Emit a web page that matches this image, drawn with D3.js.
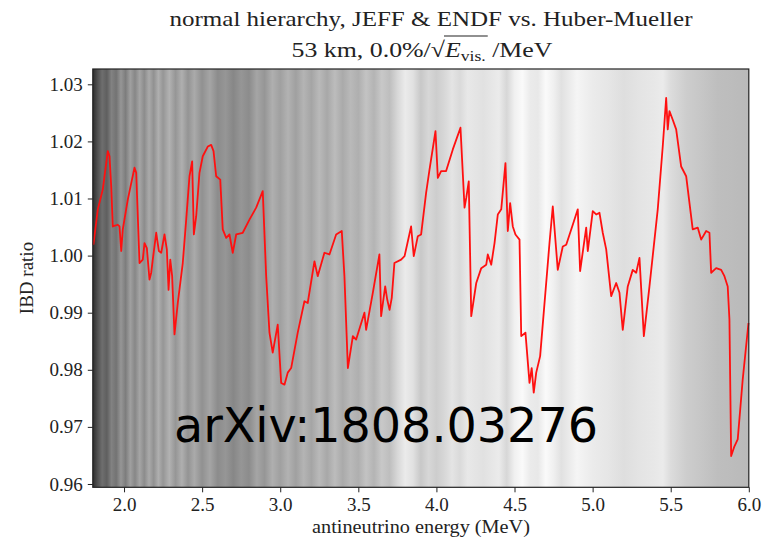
<!DOCTYPE html>
<html>
<head>
<meta charset="utf-8">
<script src="https://cdn.jsdelivr.net/npm/d3@7"></script>
<style>
  body { margin: 0; background: #fff; }
  svg { display: block; }
  .axis text { font-family: "Liberation Serif", "DejaVu Serif", serif; font-size: 19px; fill: #222; }
  .axis path, .axis line { stroke: #222; }
</style>
</head>
<body>
<div id="chart"></div>
<script>
// IBD ratio vs antineutrino energy
const energy = [1.804, 1.832, 1.864, 1.896, 1.907, 1.918, 1.928, 1.960, 1.971, 1.982, 1.992, 2.024, 2.067, 2.078, 2.088, 2.099,
  2.120, 2.131, 2.146, 2.163, 2.174, 2.184, 2.206, 2.223, 2.238, 2.259, 2.274, 2.285, 2.296, 2.308, 2.323, 2.344,
  2.376, 2.398, 2.419, 2.436, 2.447, 2.462, 2.483, 2.504, 2.536, 2.558, 2.573, 2.590, 2.616, 2.632, 2.654, 2.675,
  2.696, 2.718, 2.760, 2.803, 2.846, 2.888, 2.910, 2.931, 2.952, 2.984, 3.006, 3.027, 3.048, 3.070, 3.112, 3.155,
  3.176, 3.219, 3.240, 3.283, 3.315, 3.358, 3.394, 3.411, 3.433, 3.465, 3.486, 3.539, 3.550, 3.593, 3.635, 3.646,
  3.672, 3.685, 3.700, 3.714, 3.731, 3.774, 3.796, 3.838, 3.855, 3.881, 3.902, 3.934, 3.956, 3.994, 4.009, 4.030,
  4.062, 4.105, 4.154, 4.180, 4.191, 4.207, 4.223, 4.255, 4.287, 4.319, 4.329, 4.351, 4.372, 4.393, 4.415, 4.442,
  4.457, 4.472, 4.489, 4.506, 4.532, 4.543, 4.570, 4.596, 4.610, 4.623, 4.639, 4.664, 4.724, 4.745, 4.777, 4.809,
  4.831, 4.873, 4.905, 4.920, 4.959, 4.969, 5.001, 5.023, 5.044, 5.065, 5.087, 5.119, 5.151, 5.172, 5.193, 5.225,
  5.257, 5.279, 5.300, 5.328, 5.364, 5.417, 5.449, 5.471, 5.481, 5.492, 5.513, 5.535, 5.567, 5.599, 5.641, 5.673,
  5.695, 5.727, 5.748, 5.759, 5.791, 5.823, 5.844, 5.865, 5.876, 5.887, 5.908, 5.929, 5.961, 5.998];
const ratio = [1.0019, 1.0081, 1.0116, 1.0183, 1.0174, 1.0121, 1.0051, 1.0054, 1.0051, 1.0008, 1.0046, 1.0098, 1.0154, 1.0145, 1.0069, 0.9987,
  0.9993, 1.0022, 1.0013, 0.9958, 0.9970, 0.9993, 1.0040, 1.0008, 1.0005, 1.0037, 1.0011, 0.9940, 0.9993, 0.9964, 0.9862, 0.9917,
  0.9987, 1.0063, 1.0139, 1.0165, 1.0037, 1.0069, 1.0145, 1.0174, 1.0191, 1.0194, 1.0183, 1.0139, 1.0133, 1.0046, 1.0031, 1.0037,
  1.0005, 1.0037, 1.0040, 1.0063, 1.0084, 1.0113, 0.9964, 0.9865, 0.9830, 0.9879, 0.9777, 0.9774, 0.9795, 0.9803, 0.9865, 0.9920,
  0.9917, 0.9990, 0.9964, 1.0005, 1.0002, 1.0037, 1.0043, 0.9964, 0.9803, 0.9859, 0.9853, 0.9900, 0.9870, 0.9935, 1.0002, 0.9894,
  0.9946, 0.9923, 0.9905, 0.9926, 0.9987, 0.9993, 0.9999, 1.0051, 0.9999, 1.0034, 1.0037, 1.0110, 1.0151, 1.0218, 1.0136, 1.0148,
  1.0148, 1.0186, 1.0224, 1.0084, 1.0101, 1.0130, 0.9894, 0.9952, 0.9978, 0.9984, 1.0002, 0.9984, 1.0022, 1.0072, 1.0081, 1.0162,
  1.0043, 1.0092, 1.0051, 1.0037, 1.0028, 0.9859, 0.9865, 0.9777, 0.9803, 0.9760, 0.9795, 0.9824, 1.0022, 1.0086, 0.9975, 1.0016,
  1.0019, 1.0054, 1.0081, 0.9973, 1.0049, 1.0008, 1.0078, 1.0072, 1.0075, 1.0040, 1.0011, 0.9929, 0.9952, 0.9935, 0.9870, 0.9946,
  0.9975, 0.9970, 0.9996, 0.9859, 0.9946, 1.0081, 1.0191, 1.0276, 1.0221, 1.0253, 1.0238, 1.0221, 1.0156, 1.0139, 1.0046, 1.0049,
  1.0028, 1.0043, 1.0040, 0.9970, 0.9978, 0.9975, 0.9964, 0.9946, 0.9888, 0.9649, 0.9666, 0.9678, 0.9783, 0.9882];

const xTicks = [2.0, 2.5, 3.0, 3.5, 4.0, 4.5, 5.0, 5.5, 6.0];
const yTicks = [0.96, 0.97, 0.98, 0.99, 1.00, 1.01, 1.02, 1.03];

// grey shading behind the curve (energy, grey level)
const bgEnergy = [1.80, 1.83, 1.86, 1.89, 1.92, 1.95, 1.98, 2.01, 2.04, 2.07, 2.10, 2.13, 2.16, 2.19, 2.22, 2.25,
  2.29, 2.33, 2.37, 2.41, 2.45, 2.50, 2.55, 2.60, 2.65, 2.70, 2.75, 2.80, 2.85, 2.90, 2.95, 3.00,
  3.05, 3.10, 3.15, 3.20, 3.25, 3.30, 3.35, 3.40, 3.45, 3.50, 3.55, 3.60, 3.65, 3.70, 3.75, 3.80,
  3.85, 3.90, 3.95, 4.00, 4.05, 4.10, 4.15, 4.20, 4.30, 4.40, 4.45, 4.50, 4.55, 4.60, 4.65, 4.70,
  4.75, 4.80, 4.85, 4.90, 5.00, 5.10, 5.20, 5.30, 5.40, 5.45, 5.50, 5.60, 5.70, 5.80, 5.90, 6.00];
const bgGray = [46, 80, 110, 95, 130, 115, 150, 125, 160, 135, 165, 140, 170, 145, 175, 150,
  178, 150, 175, 148, 170, 145, 165, 140, 150, 135, 150, 140, 165, 150, 175, 160,
  178, 160, 180, 165, 185, 168, 188, 170, 185, 175, 195, 180, 200, 190, 215, 235,
  225, 200, 215, 205, 215, 228, 218, 232, 225, 235, 215, 240, 250, 235, 232, 250,
  240, 225, 235, 245, 235, 230, 222, 228, 232, 235, 220, 205, 198, 190, 188, 185];

const width = 765, height = 542;
const plotLeft = 92.8, plotRight = 748.8, plotTop = 69, plotBottom = 487.3;

const svg = d3.select('#chart').append('svg')
    .attr('width', width)
    .attr('height', height);

const x = d3.scaleLinear().domain([1.8, 6.0]).range([plotLeft, plotRight]);
const y = d3.scaleLinear().domain([0.95942, 1.03268]).range([plotBottom, plotTop]);

// background shading
const grad = svg.append('defs').append('linearGradient')
    .attr('id', 'shade')
    .attr('gradientUnits', 'userSpaceOnUse')
    .attr('x1', x(1.8)).attr('x2', x(6.0))
    .attr('y1', 0).attr('y2', 0);
grad.selectAll('stop')
    .data(bgEnergy)
    .join('stop')
    .attr('offset', d => (d - 1.8) / 4.2)
    .attr('stop-color', (d, i) => d3.rgb(bgGray[i], bgGray[i], bgGray[i]));

svg.append('rect')
    .attr('x', plotLeft).attr('y', plotTop)
    .attr('width', plotRight - plotLeft).attr('height', plotBottom - plotTop)
    .attr('fill', 'url(#shade)');

// curve
const pts = energy.map((e, i) => [e, ratio[i]]);
svg.append('path')
    .datum(pts)
    .attr('fill', 'none')
    .attr('stroke', '#ff1010')
    .attr('stroke-width', 1.8)
    .attr('stroke-linejoin', 'round')
    .attr('d', d3.line().x(d => x(d[0])).y(d => y(d[1])));

// frame
svg.append('rect')
    .attr('x', plotLeft).attr('y', plotTop)
    .attr('width', plotRight - plotLeft).attr('height', plotBottom - plotTop)
    .attr('fill', 'none')
    .attr('stroke', '#222')
    .attr('stroke-width', 1.2);

svg.append('g')
    .attr('class', 'axis')
    .attr('transform', 'translate(0,' + plotBottom + ')')
    .call(d3.axisBottom(x).tickValues(xTicks).tickFormat(d3.format('.1f')).tickSize(5).tickPadding(5))
    .call(g => g.select('.domain').remove());

svg.append('g')
    .attr('class', 'axis')
    .attr('transform', 'translate(' + plotLeft + ',0)')
    .call(d3.axisLeft(y).tickValues(yTicks).tickFormat(d3.format('.2f')).tickSize(5).tickPadding(5))
    .call(g => g.select('.domain').remove());

const serif = '"Liberation Serif", "DejaVu Serif", serif';

// axis labels
svg.append('text')
    .attr('x', 421).attr('y', 533)
    .attr('text-anchor', 'middle')
    .attr('textLength', 218).attr('lengthAdjust', 'spacingAndGlyphs')
    .style('font-family', serif).style('font-size', '18px').style('fill', '#222')
    .text('antineutrino energy (MeV)');

svg.append('text')
    .attr('transform', 'translate(33,278) rotate(-90)')
    .attr('text-anchor', 'middle')
    .style('font-family', serif).style('font-size', '19px').style('fill', '#222')
    .text('IBD ratio');

// titles
svg.append('text')
    .attr('x', 431).attr('y', 26)
    .attr('text-anchor', 'middle')
    .attr('textLength', 523).attr('lengthAdjust', 'spacingAndGlyphs')
    .style('font-family', serif).style('font-size', '22px').style('fill', '#222')
    .text('normal hierarchy, JEFF & ENDF vs. Huber-Mueller');

const t2 = svg.append('text')
    .attr('x', 422).attr('y', 57)
    .attr('text-anchor', 'middle')
    .attr('textLength', 261).attr('lengthAdjust', 'spacingAndGlyphs')
    .style('font-family', serif).style('font-size', '22px').style('fill', '#222');
t2.append('tspan').text('53 km, 0.0%/');
t2.append('tspan').text('\u221A');
t2.append('tspan').style('font-style', 'italic').text('E');
t2.append('tspan').attr('dy', 4).style('font-size', '15px').text('vis.');
t2.append('tspan').attr('dy', -4).text(' /MeV');

// overline of the square root
const tn = t2.node();
const rootEnd = tn.getEndPositionOfChar(12);
const visEnd = tn.getEndPositionOfChar(17);
svg.append('line')
    .attr('x1', rootEnd.x - 1).attr('x2', visEnd.x + 2)
    .attr('y1', 36).attr('y2', 36)
    .attr('stroke', '#222').attr('stroke-width', 1.1);

// watermark
svg.append('text')
    .attr('x', 174).attr('y', 442)
    .attr('textLength', 424).attr('lengthAdjust', 'spacingAndGlyphs')
    .style('font-family', '"DejaVu Sans", sans-serif').style('font-size', '48px').style('fill', '#000')
    .text('arXiv:1808.03276');
</script>
</body>
</html>
